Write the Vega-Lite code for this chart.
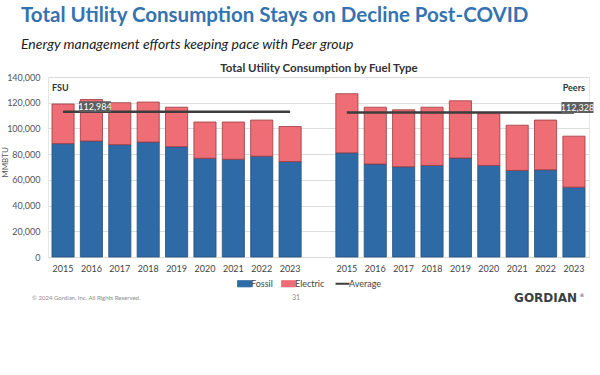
{
  "$schema": "https://vega.github.io/schema/vega-lite/v6.json",
  "autosize": {"type": "none"},
  "width": 541,
  "height": 180,
  "padding": {"left": 48, "top": 77, "right": 11, "bottom": 118},
  "background": "white",
  "config": {
    "font": "Lato",
    "view": {"stroke": "#e6e6e6", "strokeWidth": 1},
    "axisY": {"tickCount": 7}
  },
  "title": {
    "text": "Total Utility Consumption Stays on Decline Post-COVID",
    "subtitle": "Energy management efforts keeping pace with Peer group",
    "anchor": "start",
    "frame": "group",
    "dx": -27,
    "offset": 10,
    "font": "Lato",
    "fontSize": 20.5,
    "fontWeight": "bold",
    "color": "#3573b0",
    "subtitleFont": "Lato",
    "subtitleFontSize": 14,
    "subtitleFontStyle": "italic",
    "subtitleColor": "#222222",
    "subtitlePadding": 12
  },
  "datasets": {
    "bars": [
      {"group": "FSU", "year": "2015", "key": "FSU 2015", "fuel": "Fossil", "value": 88200},
      {"group": "FSU", "year": "2015", "key": "FSU 2015", "fuel": "Electric", "value": 30800},
      {"group": "FSU", "year": "2016", "key": "FSU 2016", "fuel": "Fossil", "value": 90200},
      {"group": "FSU", "year": "2016", "key": "FSU 2016", "fuel": "Electric", "value": 32300},
      {"group": "FSU", "year": "2017", "key": "FSU 2017", "fuel": "Fossil", "value": 87400},
      {"group": "FSU", "year": "2017", "key": "FSU 2017", "fuel": "Electric", "value": 32600},
      {"group": "FSU", "year": "2018", "key": "FSU 2018", "fuel": "Fossil", "value": 89400},
      {"group": "FSU", "year": "2018", "key": "FSU 2018", "fuel": "Electric", "value": 31100},
      {"group": "FSU", "year": "2019", "key": "FSU 2019", "fuel": "Fossil", "value": 85800},
      {"group": "FSU", "year": "2019", "key": "FSU 2019", "fuel": "Electric", "value": 30700},
      {"group": "FSU", "year": "2020", "key": "FSU 2020", "fuel": "Fossil", "value": 76800},
      {"group": "FSU", "year": "2020", "key": "FSU 2020", "fuel": "Electric", "value": 28200},
      {"group": "FSU", "year": "2021", "key": "FSU 2021", "fuel": "Fossil", "value": 76000},
      {"group": "FSU", "year": "2021", "key": "FSU 2021", "fuel": "Electric", "value": 29000},
      {"group": "FSU", "year": "2022", "key": "FSU 2022", "fuel": "Fossil", "value": 78400},
      {"group": "FSU", "year": "2022", "key": "FSU 2022", "fuel": "Electric", "value": 28100},
      {"group": "FSU", "year": "2023", "key": "FSU 2023", "fuel": "Fossil", "value": 74200},
      {"group": "FSU", "year": "2023", "key": "FSU 2023", "fuel": "Electric", "value": 27300},
      {"group": "Peers", "year": "2015", "key": "Peers 2015", "fuel": "Fossil", "value": 81000},
      {"group": "Peers", "year": "2015", "key": "Peers 2015", "fuel": "Electric", "value": 46000},
      {"group": "Peers", "year": "2016", "key": "Peers 2016", "fuel": "Fossil", "value": 72300},
      {"group": "Peers", "year": "2016", "key": "Peers 2016", "fuel": "Electric", "value": 44200},
      {"group": "Peers", "year": "2017", "key": "Peers 2017", "fuel": "Fossil", "value": 70200},
      {"group": "Peers", "year": "2017", "key": "Peers 2017", "fuel": "Electric", "value": 44300},
      {"group": "Peers", "year": "2018", "key": "Peers 2018", "fuel": "Fossil", "value": 71200},
      {"group": "Peers", "year": "2018", "key": "Peers 2018", "fuel": "Electric", "value": 45300},
      {"group": "Peers", "year": "2019", "key": "Peers 2019", "fuel": "Fossil", "value": 77000},
      {"group": "Peers", "year": "2019", "key": "Peers 2019", "fuel": "Electric", "value": 44500},
      {"group": "Peers", "year": "2020", "key": "Peers 2020", "fuel": "Fossil", "value": 71200},
      {"group": "Peers", "year": "2020", "key": "Peers 2020", "fuel": "Electric", "value": 40300},
      {"group": "Peers", "year": "2021", "key": "Peers 2021", "fuel": "Fossil", "value": 67300},
      {"group": "Peers", "year": "2021", "key": "Peers 2021", "fuel": "Electric", "value": 35200},
      {"group": "Peers", "year": "2022", "key": "Peers 2022", "fuel": "Fossil", "value": 67800},
      {"group": "Peers", "year": "2022", "key": "Peers 2022", "fuel": "Electric", "value": 38700},
      {"group": "Peers", "year": "2023", "key": "Peers 2023", "fuel": "Fossil", "value": 54300},
      {"group": "Peers", "year": "2023", "key": "Peers 2023", "fuel": "Electric", "value": 39700}
    ],
    "avg": [
      {"group": "FSU", "start": "FSU 2015", "end": "FSU 2023", "labelKey": "FSU 2016", "avg": 112984},
      {"group": "Peers", "start": "Peers 2015", "end": "Peers 2023", "labelKey": "Peers 2023", "avg": 112328}
    ]
  },
  "layer": [
    {
      "data": {"name": "bars"},
      "mark": {"type": "bar", "strokeWidth": 0.8},
      "encoding": {
        "x": {
          "field": "key", "type": "nominal",
          "scale": {
            "domain": ["FSU 2015", "FSU 2016", "FSU 2017", "FSU 2018", "FSU 2019", "FSU 2020", "FSU 2021", "FSU 2022", "FSU 2023", "gap", "Peers 2015", "Peers 2016", "Peers 2017", "Peers 2018", "Peers 2019", "Peers 2020", "Peers 2021", "Peers 2022", "Peers 2023"],
            "paddingInner": 0.22,
            "paddingOuter": 0.14
          },
          "axis": {
            "orient": "bottom", "title": null,
            "labelExpr": "datum.value == 'gap' ? '' : slice(datum.value, -4)",
            "labelAngle": 0, "ticks": false, "domain": true, "domainColor": "#d9d9d9",
            "labelPadding": 7, "labelFontSize": 9, "labelColor": "#444444", "grid": false
          }
        },
        "y": {
          "field": "value", "type": "quantitative", "stack": "zero",
          "scale": {"domain": [0, 140000], "nice": false},
          "axis": {
            "tickCount": 7,
            "labelExpr": "format(datum.value, ',')", "labelOverlap": false,
            "title": "MMBTU", "titleX": -39, "titleY": 85,
            "titleFontSize": 8, "titleFontWeight": "normal", "titleColor": "#555555",
            "grid": true, "gridColor": "#dcdcdc", "domain": false, "ticks": false,
            "labelPadding": 8, "labelFontSize": 9, "labelColor": "#555555"
          }
        },
        "color": {
          "field": "fuel", "type": "nominal",
          "scale": {"domain": ["Fossil", "Electric", "Average"], "range": ["#2e6aa6", "#ef6d75", "#3d3d3d"]},
          "legend": {
            "orient": "none", "legendX": 192, "legendY": 202, "direction": "horizontal",
            "title": null, "symbolSize": 196, "labelFontSize": 9, "labelColor": "#444444",
            "columnPadding": 6, "labelOffset": 2,
            "encode": {
              "symbols": {
                "update": {
                  "shape": {"signal": "datum.value === 'Average' ? 'M-1,0H1' : 'M-1,-0.45H1V0.45H-1Z'"},
                  "stroke": {"signal": "datum.value === 'Average' ? '#3d3d3d' : (datum.value === 'Fossil' ? '#24527f' : '#9c3a40')"},
                  "strokeWidth": {"signal": "datum.value === 'Average' ? 2 : 0.8"}
                }
              }
            }
          }
        },
        "stroke": {
          "field": "fuel", "type": "nominal",
          "scale": {"domain": ["Fossil", "Electric"], "range": ["#24527f", "#9c3a40"]},
          "legend": null
        },
        "order": {"field": "fuel", "sort": "descending"}
      }
    },
    {
      "data": {"name": "avg"},
      "mark": {"type": "rule", "strokeWidth": 2.5},
      "encoding": {
        "x": {"field": "start", "type": "nominal", "axis": null},
        "x2": {"field": "end"},
        "y": {"field": "avg", "type": "quantitative", "title": "MMBTU"},
        "color": {"datum": "Average"}
      }
    },
    {
      "data": {"name": "avg"},
      "mark": {"type": "point", "shape": "M-1.6,-0.55H1.6V0.55H-1.6Z", "size": 400, "filled": true, "color": "#5e5e5e", "opacity": 1, "xOffset": 3.5, "yOffset": -5},
      "encoding": {
        "x": {"field": "labelKey", "type": "nominal", "axis": null},
        "y": {"field": "avg", "type": "quantitative", "title": "MMBTU"}
      }
    },
    {
      "data": {"name": "avg"},
      "mark": {"type": "text", "color": "white", "fontSize": 9, "xOffset": 3.5, "yOffset": -5},
      "encoding": {
        "x": {"field": "labelKey", "type": "nominal", "axis": null},
        "y": {"field": "avg", "type": "quantitative", "title": "MMBTU"},
        "text": {"field": "avg", "type": "quantitative", "format": ","}
      }
    },
    {
      "data": {"values": [{"label": "FSU", "key": "FSU 2015"}]},
      "mark": {"type": "text", "align": "left", "dx": -11, "fontSize": 9, "fontWeight": "bold", "color": "#333333"},
      "encoding": {
        "x": {
          "field": "key", "type": "nominal",
          "axis": {"orient": "top", "title": "Total Utility Consumption by Fuel Type", "titleFontSize": 11.5, "titleFontWeight": "bold", "titleColor": "#333333", "titlePadding": 4, "labels": false, "ticks": false, "domain": false, "grid": false}
        },
        "y": {"datum": 131500},
        "text": {"field": "label"}
      }
    },
    {
      "data": {"values": [{"label": "Peers", "key": "Peers 2023"}]},
      "mark": {"type": "text", "align": "right", "dx": 11, "fontSize": 9, "fontWeight": "bold", "color": "#333333"},
      "encoding": {
        "x": {"field": "key", "type": "nominal", "axis": null},
        "y": {"datum": 131500},
        "text": {"field": "label"}
      }
    },
    {
      "data": {"values": [{"note": "© 2024 Gordian, Inc. All Rights Reserved.", "key": "FSU 2015"}]},
      "mark": {"type": "text", "align": "left", "dx": -31, "fontSize": 6, "color": "#8a8a8a"},
      "encoding": {
        "x": {"field": "key", "type": "nominal", "axis": null},
        "y": {"datum": -31900},
        "text": {"field": "note"}
      }
    },
    {
      "data": {"values": [{"note": "31", "key": "FSU 2023"}]},
      "mark": {"type": "text", "align": "center", "dx": 6, "fontSize": 7, "color": "#8a8a8a"},
      "encoding": {
        "x": {"field": "key", "type": "nominal", "axis": null},
        "y": {"datum": -31900},
        "text": {"field": "note"}
      }
    },
    {
      "data": {"values": [{"note": "GORDIAN", "key": "Peers 2022"}]},
      "mark": {"type": "text", "align": "center", "fontSize": 12, "fontWeight": "bold", "color": "#3a3f45", "font": "DejaVu Sans", "letterSpacing": 0.5},
      "encoding": {
        "x": {"field": "key", "type": "nominal", "axis": null},
        "y": {"datum": -31900},
        "text": {"field": "note"}
      }
    },
    {
      "data": {"values": [{"note": "®", "key": "Peers 2023"}]},
      "mark": {"type": "text", "align": "center", "fontSize": 5, "dx": 8, "dy": -3, "color": "#3a3f45", "font": "DejaVu Sans"},
      "encoding": {
        "x": {"field": "key", "type": "nominal", "axis": null},
        "y": {"datum": -31900},
        "text": {"field": "note"}
      }
    }
  ],
  "resolve": {"axis": {"x": "independent"}}
}
